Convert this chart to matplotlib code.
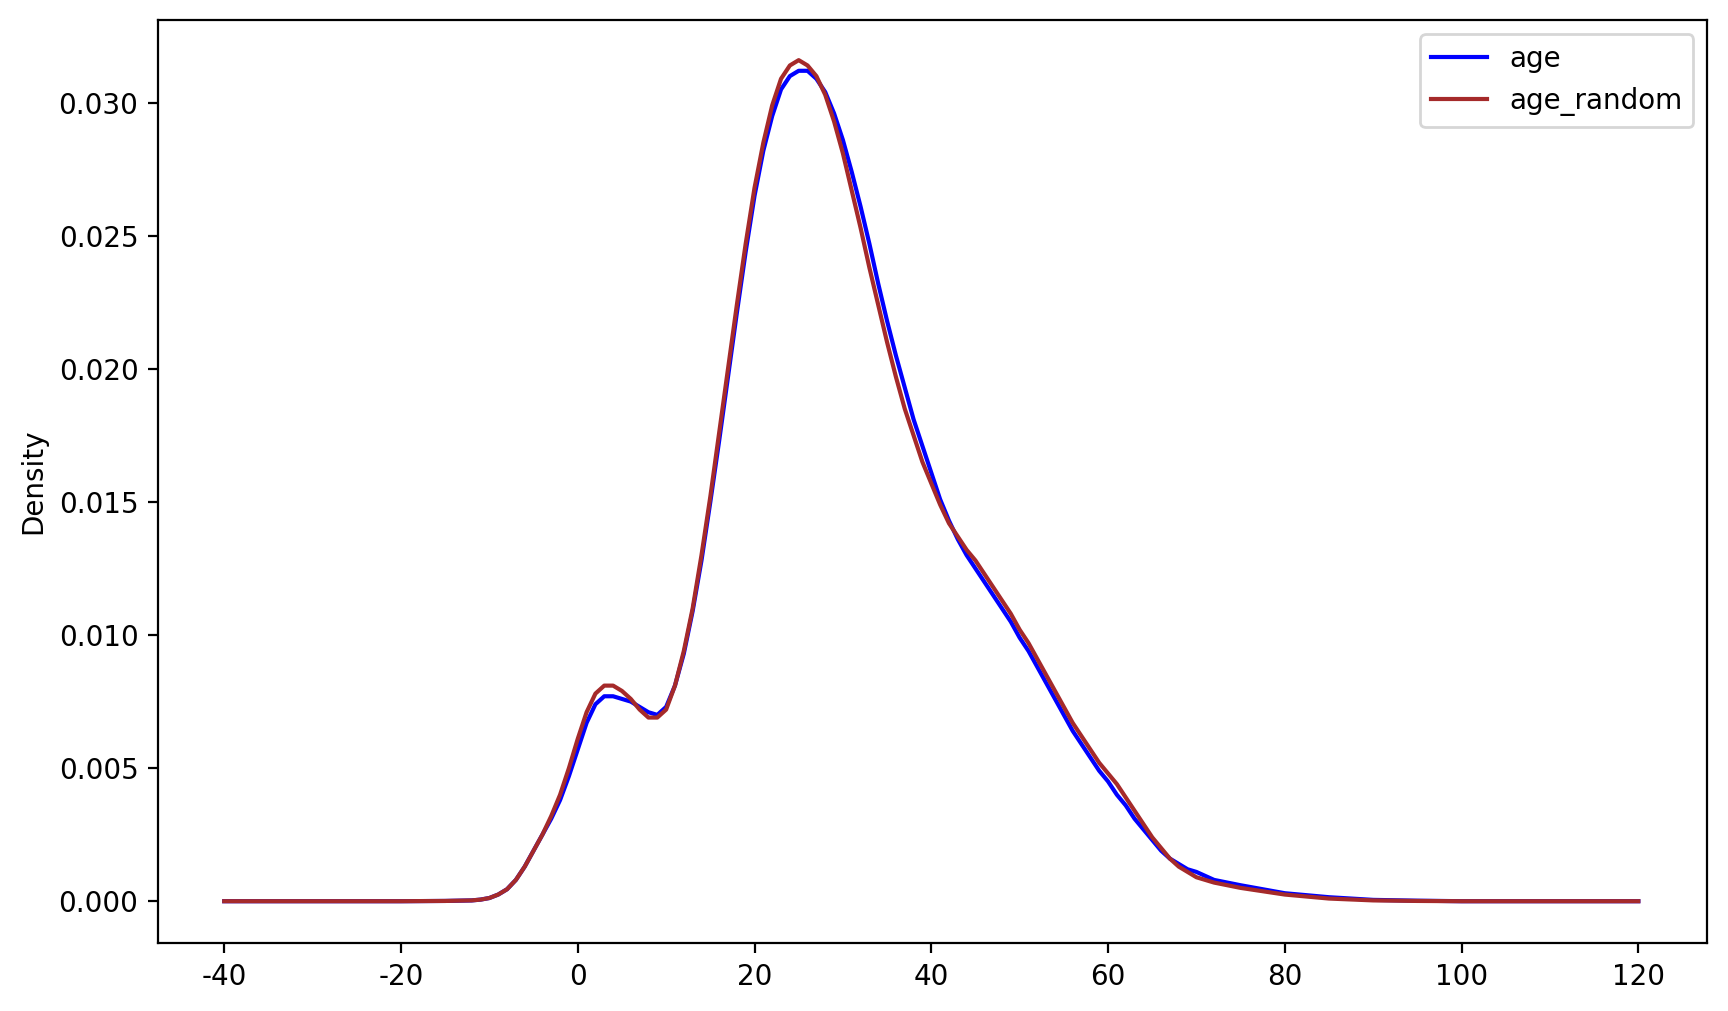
import matplotlib
matplotlib.use("Agg")
import matplotlib.pyplot as plt

plt.rcParams['axes.unicode_minus'] = False

# valores (densidad KDE)
x_vals = [-40, -30, -20, -15, -12, -11, -10, -9, -8, -7, -6, -5, -4, -3, -2, -1,
          0, 1, 2, 3, 4, 5, 6, 7, 8, 9, 10, 11, 12, 13, 14, 15, 16, 17, 18, 19,
          20, 21, 22, 23, 24, 25, 26, 27, 28, 29, 30, 31, 32, 33, 34, 35, 36,
          37, 38, 39, 40, 41, 42, 43, 44, 45, 46, 47, 48, 49, 50, 51, 52, 53,
          54, 55, 56, 57, 58, 59, 60, 61, 62, 63, 64, 65, 66, 67, 68, 69, 70,
          72, 75, 80, 85, 90, 95, 100, 110, 120]

age = [0, 0, 0, 0.00001, 0.00003, 0.00006, 0.00012, 0.00025, 0.00045, 0.0008,
       0.0013, 0.0019, 0.0025, 0.0031, 0.0038, 0.0047,
       0.0057, 0.0067, 0.0074, 0.0077, 0.0077, 0.0076, 0.0075, 0.0073, 0.0071,
       0.0070, 0.0073, 0.0081, 0.0093, 0.0109, 0.0128, 0.0150, 0.0173, 0.0197,
       0.0221, 0.0244, 0.0265, 0.0282, 0.0295, 0.0305, 0.0310, 0.0312, 0.0312,
       0.0309, 0.0304, 0.0296, 0.0286, 0.0274, 0.0261, 0.0247, 0.0232, 0.0218,
       0.0205, 0.0193, 0.0181, 0.0171, 0.0161, 0.0151, 0.0143, 0.0136, 0.0130,
       0.0125, 0.0120, 0.0115, 0.0110, 0.0105, 0.0099, 0.0094, 0.0088, 0.0082,
       0.0076, 0.0070, 0.0064, 0.0059, 0.0054, 0.0049, 0.0045, 0.0040, 0.0036,
       0.0031, 0.0027, 0.0023, 0.0019, 0.0016, 0.0014, 0.0012, 0.0011,
       0.0008, 0.0006, 0.0003, 0.00015, 0.00005, 0.00002, 0, 0, 0]

age_random = [0, 0, 0, 0.00001, 0.00003, 0.00006, 0.00012, 0.00025, 0.00045,
              0.0008, 0.0013, 0.0019, 0.0025, 0.0032, 0.0040, 0.0050,
              0.0061, 0.0071, 0.0078, 0.0081, 0.0081, 0.0079, 0.0076, 0.0072,
              0.0069, 0.0069, 0.0072, 0.0081, 0.0094, 0.0110, 0.0130, 0.0152,
              0.0176, 0.0200, 0.0224, 0.0247, 0.0268, 0.0285, 0.0299, 0.0309,
              0.0314, 0.0316, 0.0314, 0.0310, 0.0303, 0.0293, 0.0281, 0.0267,
              0.0253, 0.0238, 0.0224, 0.0210, 0.0197, 0.0185, 0.0175, 0.0165,
              0.0157, 0.0149, 0.0142, 0.0137, 0.0132, 0.0128, 0.0123, 0.0118,
              0.0113, 0.0108, 0.0102, 0.0097, 0.0091, 0.0085, 0.0079, 0.0073,
              0.0067, 0.0062, 0.0057, 0.0052, 0.0048, 0.0044, 0.0039, 0.0034,
              0.0029, 0.0024, 0.0020, 0.0016, 0.0013, 0.0011, 0.0009,
              0.0007, 0.0005, 0.00025, 0.0001, 0.00003, 0.00001, 0, 0, 0]

fig, ax = plt.subplots(figsize=(8.64, 5.055), dpi=200)
fig.subplots_adjust(left=0.0914, right=0.988, top=0.980, bottom=0.067)

ax.plot(x_vals, age, color='blue', label='age')
ax.plot(x_vals, age_random, color='brown', label='age_random')

ax.set_xlim(-47.5, 127.8)
ax.set_ylim(-0.00158, 0.0331)
ax.set_ylabel("Density")
ax.legend(loc='upper right')

fig.savefig("out.png", dpi=200)
